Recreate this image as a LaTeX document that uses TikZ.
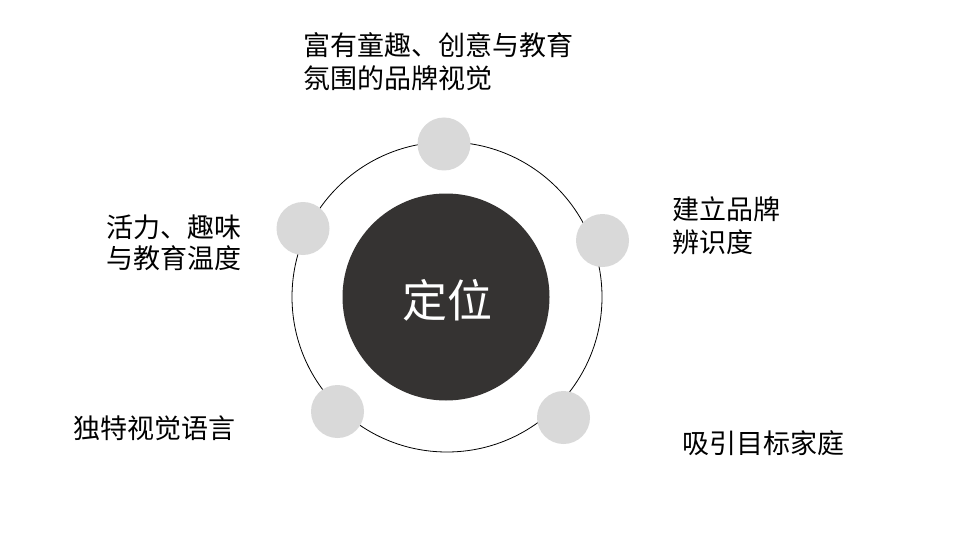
\documentclass[tikz,border=0pt]{standalone}
\usepackage{fontspec}
\setmainfont{Noto Sans CJK SC}
\definecolor{ringgray}{RGB}{217,217,217}
\definecolor{coredark}{RGB}{53,51,50}
\begin{document}
\begin{tikzpicture}[x=1pt,y=-1pt,
  dot/.style={circle,fill=ringgray,minimum size=53pt,inner sep=0pt},
  lbl/.style={anchor=base west,inner sep=0pt,align=left,font=\fontsize{27}{33}\selectfont,text=black}]
\useasboundingbox[fill=white] (0,0) rectangle (960,540);
\node[circle,draw=black,line width=0.8pt,minimum size=310pt,inner sep=0pt] (ring) at (447,297) {};
\node[circle,fill=coredark,minimum size=207pt,inner sep=0pt] (core) at (446,297) {};
\node[text=white,font=\fontsize{45}{50}\selectfont,inner sep=0pt] (title) at (447,300) {定位};
\node[dot] (d1) at (444,144) {};
\node[dot] (d2) at (602.5,240.5) {};
\node[dot] (d3) at (563.5,417.5) {};
\node[dot] (d4) at (337.5,411.5) {};
\node[dot] (d5) at (303,228.5) {};
\node[lbl] (t1) at (303,89) {富有童趣、创意与教育\\氛围的品牌视觉};
\node[lbl] (t2) at (672,252) {建立品牌\\辨识度};
\node[lbl] (t3) at (682,453) {吸引目标家庭};
\node[lbl] (t4) at (73,438) {独特视觉语言};
\node[lbl,font=\fontsize{27}{31}\selectfont] (t5) at (106,268) {活力、趣味\\与教育温度};
\end{tikzpicture}
\end{document}
